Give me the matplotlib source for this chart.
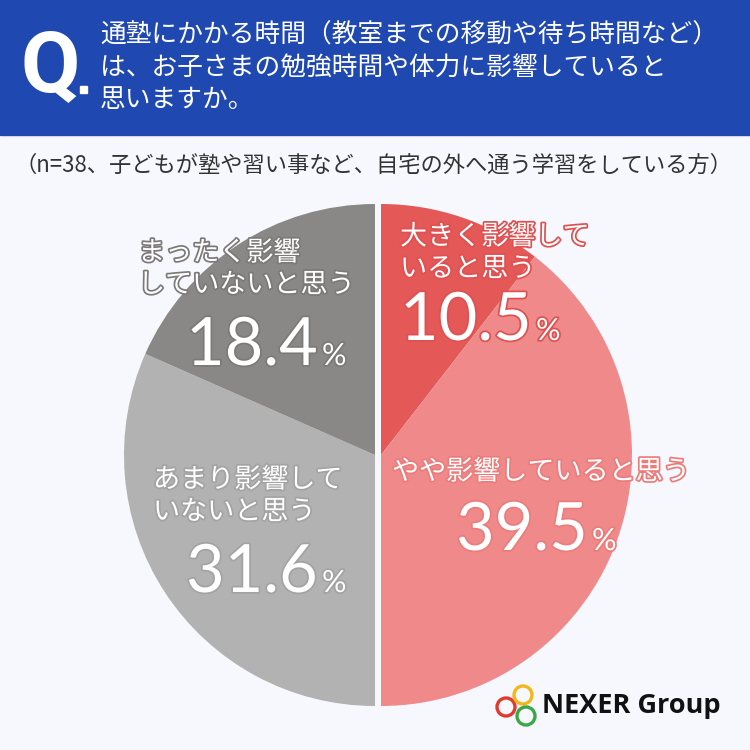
import matplotlib
matplotlib.use("Agg")
import matplotlib.pyplot as plt
from matplotlib.patches import Rectangle, Circle
import matplotlib.patheffects as pe

answers = ["大きく影響して\nいると思う", "やや影響していると思う",
           "あまり影響して\nいないと思う", "まったく影響\nしていないと思う"]
shares = [10.5, 39.5, 31.6, 18.4]
colors = ["#E55858", "#F08A8A", "#B2B2B2", "#8A8787"]
edge_colors = ["#E05050", "#EC7C7C", "#A3A3A3", "#7C7979"]

title = "通塾にかかる時間（教室までの移動や待ち時間など）\nは、お子さまの勉強時間や体力に影響していると\n思いますか。"
note = "（n=38、子どもが塾や習い事など、自宅の外へ通う学習をしている方）"

JP = ["Noto Sans CJK JP", "DejaVu Sans"]
NUM = ["Lato", "DejaVu Sans"]
H = 750

def Y(y):
    return H - y

fig = plt.figure(figsize=(7.5, 7.5), dpi=100, facecolor="#F7F8FD")
ax = fig.add_axes([0, 0, 1, 1])
ax.set_facecolor("#F7F8FD")

# header band
ax.add_patch(Rectangle((0, Y(135)), 750, 135, color="#1F48B0", zorder=1))
ax.text(20, Y(92), "Q", color="white", fontsize=62, fontweight="bold",
        family="Roboto", ha="left", va="baseline", zorder=3)
ax.add_patch(Rectangle((80, Y(93)), 7, 7, color="white", zorder=3))
ax.text(100, Y(68), title, color="white", fontsize=18.5, family=JP,
        ha="left", va="center", linespacing=1.32, zorder=3)
ax.text(374, Y(165), note, color="#333333", fontsize=16, family=JP,
        ha="center", va="center", zorder=3)

# pie, split into two halves with a small gap
cx, cy, r = 378, Y(455), 251
wedges, _ = ax.pie(shares, colors=colors, startangle=90, counterclock=False,
                   center=(cx, cy), radius=r, frame=True,
                   wedgeprops=dict(linewidth=0))
for i, w in enumerate(wedges):
    dx = 3 if i < 2 else -3
    w.set_center((cx + dx, cy))
    w.set_zorder(2)

ax.set_xlim(0, 750)
ax.set_ylim(0, 750)
ax.set_aspect("auto")
ax.axis("off")

label_pos = [(400, 237), (392, 472), (153, 480), (138, 253)]
num_pos = [(400, 340), (456, 550), (186, 592), (186, 365)]
renderer = fig.canvas.get_renderer()
for i, ans in enumerate(answers):
    stroke = [pe.withStroke(linewidth=2.5, foreground=edge_colors[i])]
    lx, ly = label_pos[i]
    for k, line in enumerate(ans.split("\n")):
        ax.text(lx, Y(ly + k * 32), line, color="white", fontsize=19.5,
                family=JP, ha="left", va="center", path_effects=stroke, zorder=4)
    nx, ny = num_pos[i]
    t = ax.text(nx, Y(ny), f"{shares[i]:.1f}", color="white", fontsize=48,
                family=NUM, ha="left", va="baseline", path_effects=stroke, zorder=4)
    bb = t.get_window_extent(renderer=renderer)
    x1 = ax.transData.inverted().transform((bb.x1, bb.y0))[0]
    ax.text(x1 + 4, Y(ny), "%", color="white", fontsize=22, family=NUM,
            ha="left", va="baseline", path_effects=stroke, zorder=4)

# logo
for (x, y), c in zip([(506, 707), (523, 695), (526, 716)],
                     ["#E03A2E", "#F2B71B", "#3AA845"]):
    ax.add_patch(Circle((x, Y(y)), 9, fill=False, edgecolor=c,
                        linewidth=2.4, zorder=5))
ax.text(542, Y(706), "NEXER Group", color="#111111", fontsize=19.5,
        fontweight="bold", family="Open Sans", ha="left", va="center", zorder=5)

fig.savefig("out.png", dpi=100, facecolor=fig.get_facecolor())
